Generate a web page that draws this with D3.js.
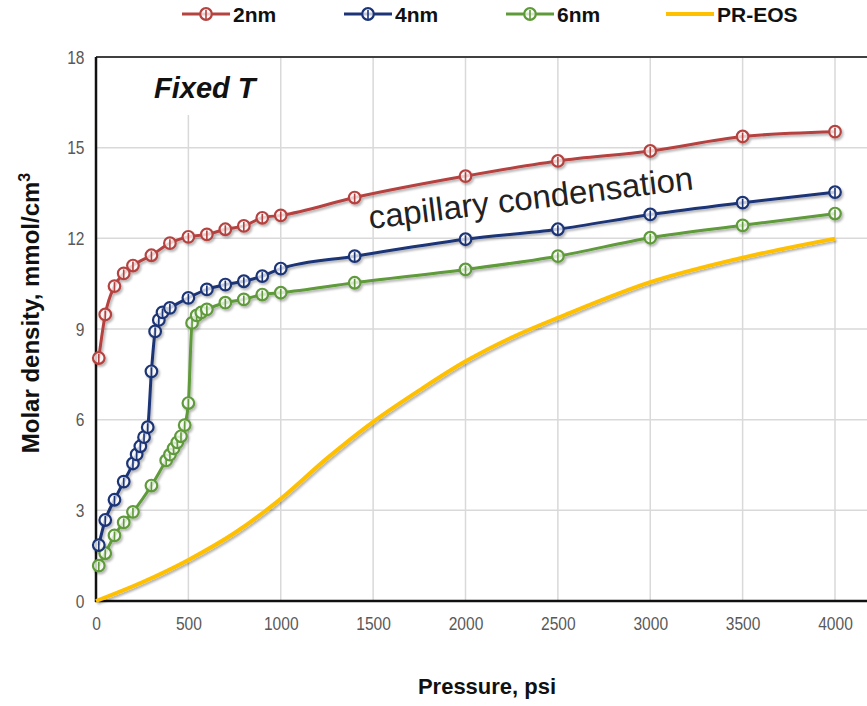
<!DOCTYPE html>
<html>
<head>
<meta charset="utf-8">
<script src="https://cdn.jsdelivr.net/npm/d3@7"></script>
<style>
  html, body { margin: 0; padding: 0; background: #fff; }
  svg { display: block; }
  text { font-family: "Liberation Sans", Arial, sans-serif; }
</style>
</head>
<body>
<svg id="chart" width="867" height="706"></svg>
<script>
// Molar density vs pressure for three pore sizes and the bulk PR-EOS curve
const pressure2 = [15, 50, 100, 150, 200, 300, 400, 500, 600, 700, 800, 900, 1000, 1400, 2000, 2500, 3000, 3500, 4000];
const density2  = [8.04, 9.48, 10.42, 10.84, 11.1, 11.44, 11.84, 12.05, 12.13, 12.3, 12.41, 12.68, 12.76, 13.35, 14.06, 14.56, 14.89, 15.37, 15.53];

const pressure4 = [15, 50, 100, 150, 200, 220, 240, 260, 280, 300, 320, 340, 360, 400, 500, 600, 700, 800, 900, 1000, 1400, 2000, 2500, 3000, 3500, 4000];
const density4  = [1.85, 2.68, 3.35, 3.95, 4.55, 4.85, 5.12, 5.42, 5.75, 7.6, 8.92, 9.3, 9.55, 9.7, 10.03, 10.31, 10.47, 10.58, 10.75, 11.0, 11.41, 11.97, 12.3, 12.79, 13.18, 13.53];

const pressure6 = [15, 50, 100, 150, 200, 300, 380, 400, 420, 440, 460, 480, 500, 520, 545, 570, 600, 700, 800, 900, 1000, 1400, 2000, 2500, 3000, 3500, 4000];
const density6  = [1.17, 1.58, 2.17, 2.6, 2.95, 3.82, 4.65, 4.84, 5.05, 5.25, 5.45, 5.82, 6.55, 9.2, 9.45, 9.55, 9.65, 9.87, 9.98, 10.14, 10.2, 10.53, 10.97, 11.41, 12.02, 12.43, 12.82];

const pressureEOS = [0, 250, 500, 750, 1000, 1250, 1500, 1750, 2000, 2250, 2500, 3000, 3500, 4000];
const densityEOS  = [0, 0.62, 1.36, 2.25, 3.38, 4.72, 5.93, 6.97, 7.93, 8.72, 9.37, 10.55, 11.36, 11.99];

const seriesNames = ["2nm", "4nm", "6nm", "PR-EOS"];
const seriesColors = ["#b5433f", "#1c3477", "#5f9a3a", "#ffc000"];

const xTicks = [0, 500, 1000, 1500, 2000, 2500, 3000, 3500, 4000];
const yTicks = [0, 3, 6, 9, 12, 15, 18];

const series = [
  { name: seriesNames[0], color: seriesColors[0], markers: true, pts: pressure2.map((p, i) => [p, density2[i]]) },
  { name: seriesNames[1], color: seriesColors[1], markers: true, pts: pressure4.map((p, i) => [p, density4[i]]) },
  { name: seriesNames[2], color: seriesColors[2], markers: true, pts: pressure6.map((p, i) => [p, density6[i]]) },
  { name: seriesNames[3], color: seriesColors[3], markers: false, pts: pressureEOS.map((p, i) => [p, densityEOS[i]]) }
];

const svg = d3.select("#chart");
const plotLeft = 96, plotBottom = 601, plotTop = 57;
const pxPerPsi = 92.375 / 500;
const x = d3.scaleLinear().domain([0, 4400]).range([plotLeft, plotLeft + 4400 * pxPerPsi]);
const y = d3.scaleLinear().domain([0, 18]).range([plotBottom, plotTop]);
const plotRight = x(4400);

// soft drop shadow under the data lines
const defs = svg.append("defs");
const flt = defs.append("filter").attr("id", "shadow").attr("x", "-5%").attr("y", "-5%").attr("width", "110%").attr("height", "110%");
flt.append("feDropShadow").attr("dx", 1.5).attr("dy", 2).attr("stdDeviation", 1.3)
  .attr("flood-color", "#000").attr("flood-opacity", 0.3);

// gridlines
const grid = svg.append("g");
grid.selectAll("line.h").data(yTicks.filter(v => v > 0 && v < 18)).enter().append("line")
  .attr("x1", plotLeft).attr("x2", plotRight).attr("y1", d => y(d)).attr("y2", d => y(d))
  .attr("stroke", "#d9d9d9").attr("stroke-width", 1.5);
grid.selectAll("line.v").data(xTicks.filter(v => v > 0)).enter().append("line")
  .attr("y1", plotTop).attr("y2", plotBottom).attr("x1", d => x(d)).attr("x2", d => x(d))
  .attr("stroke", "#d9d9d9").attr("stroke-width", 1.5);

// white box behind the "Fixed T" note
svg.append("rect").attr("x", 132).attr("y", plotTop + 1).attr("width", 140).attr("height", 57).attr("fill", "#fff");

// frame: top border, left and bottom axes
svg.append("line").attr("x1", plotLeft).attr("x2", plotRight).attr("y1", plotTop).attr("y2", plotTop)
  .attr("stroke", "#404040").attr("stroke-width", 2);

const xAxis = svg.append("g").attr("transform", `translate(0,${plotBottom})`)
  .call(d3.axisBottom(x).tickValues(xTicks).tickSize(0).tickPadding(16).tickFormat(d3.format("d")));
const yAxis = svg.append("g").attr("transform", `translate(${plotLeft},0)`)
  .call(d3.axisLeft(y).tickValues(yTicks).tickSize(0).tickPadding(14).tickFormat(d3.format("d")));
[xAxis, yAxis].forEach(g => {
  g.select(".domain").remove();
  g.selectAll("text").attr("font-size", 19).attr("fill", "#595959")
    .attr("font-family", "'Liberation Sans', Arial, sans-serif");
});
// narrow tick numerals
xAxis.selectAll("text").attr("transform", "scale(0.82,1)");
yAxis.selectAll("text").attr("transform", "scale(0.82,1)");

svg.append("line").attr("x1", plotLeft).attr("x2", plotLeft).attr("y1", plotTop).attr("y2", plotBottom + 1)
  .attr("stroke", "#111").attr("stroke-width", 2.5);
svg.append("line").attr("x1", plotLeft - 1).attr("x2", plotRight).attr("y1", plotBottom).attr("y2", plotBottom)
  .attr("stroke", "#111").attr("stroke-width", 2.5);

// data lines and markers
const lineMarked = d3.line().x(d => x(d[0])).y(d => y(d[1])).curve(d3.curveMonotoneX);
const lineSmooth = d3.line().x(d => x(d[0])).y(d => y(d[1])).curve(d3.curveCatmullRom.alpha(0.5));
const plot = svg.append("g").attr("filter", "url(#shadow)");

function marker(g, cx, cy, color) {
  g.append("circle").attr("cx", cx).attr("cy", cy).attr("r", 5.8)
    .attr("fill", "rgba(255,255,255,0.75)").attr("stroke", color).attr("stroke-width", 2.2);
  g.append("line").attr("x1", cx).attr("x2", cx).attr("y1", cy - 4).attr("y2", cy + 5.8)
    .attr("stroke", color).attr("stroke-width", 1.6);
}

series.slice().reverse().forEach(s => {
  plot.append("path").datum(s.pts).attr("d", s.markers ? lineMarked : lineSmooth).attr("fill", "none")
    .attr("stroke", s.color).attr("stroke-width", s.markers ? 3 : 4).attr("stroke-linejoin", "round");
  if (s.markers) {
    const mg = plot.append("g");
    s.pts.forEach(d => marker(mg, x(d[0]), y(d[1]), s.color));
  }
});

// legend
const legendX = [182, 344, 506, 666];
const lg = svg.append("g");
series.forEach((s, i) => {
  const x0 = legendX[i], yy = 14;
  lg.append("line").attr("x1", x0).attr("x2", x0 + 48).attr("y1", yy).attr("y2", yy)
    .attr("stroke", s.color).attr("stroke-width", s.markers ? 3 : 4);
  if (s.markers) marker(lg, x0 + 24, yy, s.color);
  lg.append("text").attr("x", x0 + 51).attr("y", yy + 7.5).attr("font-size", 21).attr("font-weight", "bold")
    .attr("fill", "#111").text(s.name);
});

// annotations
svg.append("text").attr("x", 154).attr("y", 98).attr("font-size", 29).attr("font-weight", "bold")
  .attr("font-style", "italic").attr("fill", "#111").text("Fixed T");
svg.append("text").attr("transform", "translate(370,229) rotate(-7)").attr("font-size", 33)
  .attr("fill", "#222").text("capillary condensation");

// axis titles
svg.append("text").attr("x", 487).attr("y", 694).attr("text-anchor", "middle")
  .attr("font-size", 22).attr("font-weight", "bold").attr("fill", "#111").text("Pressure, psi");
const yt = svg.append("text").attr("transform", "translate(39,313) rotate(-90)").attr("text-anchor", "middle")
  .attr("font-size", 24).attr("font-weight", "bold").attr("fill", "#111");
yt.append("tspan").text("Molar density, mmol/cm");
yt.append("tspan").attr("dy", -9).attr("font-size", 16).text("3");
</script>
</body>
</html>
